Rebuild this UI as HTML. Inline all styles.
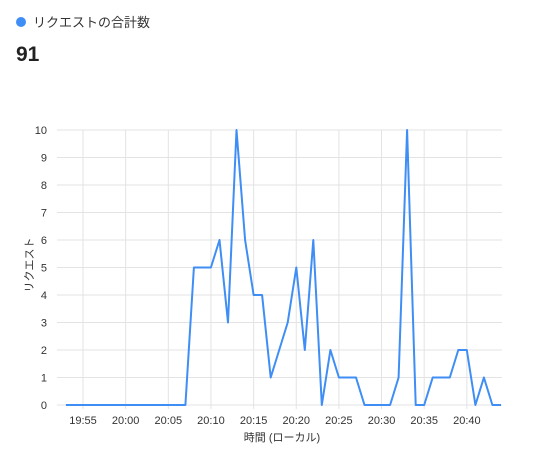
<!DOCTYPE html>
<html><head><meta charset="utf-8">
<style>
body{margin:0;background:#fff;width:542px;height:450px;overflow:hidden;font-family:"Liberation Sans","Noto Sans CJK JP",sans-serif;}
</style></head><body>
<svg width="542" height="450" style="position:absolute;left:0;top:0">
<circle cx="21" cy="22" r="5" fill="#3f8ef5"/>
<text x="33" y="27" font-size="13" fill="#333">リクエストの合計数</text>
<text x="16" y="61" font-size="21" font-weight="bold" fill="#222">91</text>
<g id="grid"></g><g id="yt"></g><g id="xt"></g>
<text transform="translate(33,265) rotate(-90)" text-anchor="middle" font-size="11" fill="#333">リクエスト</text>
<text x="282" y="441" text-anchor="middle" font-size="11" fill="#333">時間 (ローカル)</text>
<path id="line" fill="none" stroke="#3f8ef5" stroke-width="2" stroke-linejoin="round"/>
</svg>
<script>
const startMinute = 19*60+53;
const values = [0,0,0,0,0,0,0,0,0,0,0,0,0,0,0,5,5,5,6,3,10,6,4,4,1,2,3,5,2,6,0,2,1,1,1,0,0,0,0,1,10,0,0,1,1,1,2,2,0,1,0,0];
const yTicks = [0,1,2,3,4,5,6,7,8,9,10];
const xTickLabels = ["19:55","20:00","20:05","20:10","20:15","20:20","20:25","20:30","20:35","20:40"];
const xTickMinutes = [1195,1200,1205,1210,1215,1220,1225,1230,1235,1240];
const ns="http://www.w3.org/2000/svg";
const L=57,R=502,T=130,B=405;
const xs=m=>83+(m-1195)*8.53;
const ys=v=>B-(B-T)*v/10;
const grid=document.getElementById('grid'),yt=document.getElementById('yt'),xt=document.getElementById('xt');
yTicks.forEach(v=>{
 const l=document.createElementNS(ns,'line');
 
 
 l.setAttribute('x1',L);l.setAttribute('x2',R);l.setAttribute('y1',ys(v));l.setAttribute('y2',ys(v));
 l.setAttribute('stroke','#e3e3e3');grid.appendChild(l);
 const t=document.createElementNS(ns,'text');
 
 
 t.setAttribute('x',47);t.setAttribute('y',ys(v)+4);t.setAttribute('text-anchor','end');t.setAttribute('font-size','11');t.setAttribute('fill','#333');
 t.textContent=v;yt.appendChild(t);
});
xTickMinutes.forEach((m,i)=>{
 const l=document.createElementNS(ns,'line');
 
 
 l.setAttribute('x1',xs(m));l.setAttribute('x2',xs(m));l.setAttribute('y1',T);l.setAttribute('y2',B+4);
 l.setAttribute('stroke','#e3e3e3');grid.appendChild(l);
 const t=document.createElementNS(ns,'text');
 
 
 t.setAttribute('x',xs(m));t.setAttribute('y',424);t.setAttribute('text-anchor','middle');t.setAttribute('font-size','11');t.setAttribute('fill','#333');
 t.textContent=xTickLabels[i];xt.appendChild(t);
});
document.getElementById('line').setAttribute('d',values.map((v,i)=>(i?'L':'M')+xs(startMinute+i).toFixed(1)+','+ys(v).toFixed(1)).join(''));
</script>
</body></html>
